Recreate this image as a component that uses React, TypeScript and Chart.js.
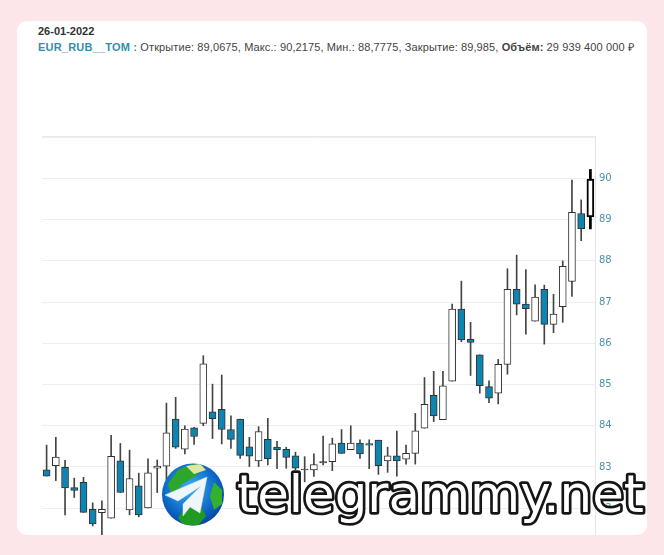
import React, { useEffect, useRef } from "react";
import { Chart, registerables } from "chart.js";

Chart.register(...registerables);

const opens = [82.93,83.03,82.99,82.50,82.63,81.97,81.89,81.76,83.15,81.96,82.54,82.01,82.97,83.02,84.16,83.43,83.95,84.06,84.34,84.40,83.91,84.16,83.49,83.15,83.67,83.48,83.43,83.27,82.95,82.93,83.13,83.13,83.58,83.42,83.58,83.57,83.65,83.15,83.27,83.19,83.33,83.94,84.74,84.15,85.08,86.83,86.10,85.72,84.95,84.79,85.49,87.31,86.95,86.54,87.31,86.46,86.89,87.50,89.15,89.0675];
const closes = [82.78,83.24,82.49,82.43,81.90,81.62,81.97,83.26,82.38,82.72,81.84,82.86,83.02,83.83,83.48,83.92,83.74,85.50,84.17,83.91,83.67,83.28,83.26,83.86,83.20,83.42,83.23,82.97,82.93,83.06,83.10,83.56,83.33,83.58,83.32,83.53,83.03,83.27,83.15,83.33,83.88,84.52,84.24,84.97,86.83,86.08,86.02,84.97,84.67,85.49,87.31,86.95,86.84,87.12,86.46,86.71,87.87,89.18,88.78,89.985];
const highs = [83.53,83.72,83.16,82.73,82.75,82.13,82.18,83.77,83.57,83.41,82.85,83.20,83.17,84.55,84.69,84.00,83.96,85.70,85.01,85.23,84.24,84.16,83.72,83.98,84.18,83.62,83.48,83.36,83.25,83.32,83.75,83.70,83.91,84.00,83.66,83.66,83.65,83.48,83.87,83.53,84.30,85.17,85.32,85.32,86.95,87.51,86.51,85.72,85.09,85.61,87.81,88.14,87.79,87.42,87.41,87.19,88.00,89.96,89.48,90.2175];
const lows = [82.78,82.67,81.84,82.26,81.90,81.57,81.35,81.76,82.38,81.84,81.79,82.01,82.38,82.68,83.45,83.32,83.55,84.00,83.69,83.56,83.45,83.21,83.01,83.01,83.05,82.96,82.97,82.93,82.64,82.77,83.05,82.91,83.33,83.42,83.21,82.96,82.82,82.87,82.78,83.07,83.07,83.94,84.10,84.15,85.08,86.04,85.22,84.79,84.56,84.53,85.25,86.69,86.22,86.54,85.98,86.26,86.51,87.14,88.49,88.7775];
const categories = opens.map((_, i) => String(i + 1));
const selectedIndex = 59;
const title = "26-01-2022";
const instrument = "EUR_RUB__TOM :";
const summary = " Открытие: 89,0675, Макс.: 90,2175, Мин.: 88,7775, Закрытие: 89,985, ";
const volumeLabel = "Объём:";
const volumeValue = " 29 939 400 000 ₽";
const watermark = "telegrammy.net";

export default function App() {
  const ref = useRef<HTMLCanvasElement>(null);
  useEffect(() => {
    document.body.style.overflow = "hidden";
    const chart = new Chart(ref.current!, {
      type: "bar",
      data: {
        labels: categories,
        datasets: [
          {
            label: "body",
            data: opens.map((o, i) => [o, closes[i]]),
            order: 1,
            grouped: false,
            barThickness: 7,
            borderSkipped: false,
            backgroundColor: opens.map((o, i) => (closes[i] < o ? "#0f84b0" : "#ffffff")),
            borderColor: opens.map((_, i) => (i === selectedIndex ? "#000000" : "#333333")),
            borderWidth: opens.map((_, i) => (i === selectedIndex ? 2 : 1)),
          },
          {
            label: "selected wick",
            data: highs.map((h, i) => (i === selectedIndex ? [lows[i], h] : null)),
            order: 2,
            grouped: false,
            barThickness: 2,
            backgroundColor: "#000000",
            borderWidth: 0,
          },
          {
            label: "wick",
            data: highs.map((h, i) => [lows[i], h]),
            order: 3,
            grouped: false,
            barThickness: 1,
            backgroundColor: "#444444",
            borderWidth: 0,
          },
        ],
      } as any,
      options: {
        animation: false,
        responsive: false,
        layout: { padding: { top: 6, left: 0, right: 0, bottom: 0 } },
        plugins: { legend: { display: false }, tooltip: { enabled: false } },
        scales: {
          x: {
            position: "top",
            afterFit: (s: any) => { s.height = 0; s.paddingLeft = 0; s.paddingRight = 0; },
            grid: { display: false },
            border: { color: "#e9e9e9" },
            ticks: { display: false },
          },
          y: {
            position: "right",
            min: 81.35,
            max: 91.03,
            afterFit: (s: any) => { s.width = 35; s.paddingTop = 0; s.paddingBottom = 0; },
            grid: { color: "#eeeeee", drawTicks: false },
            border: { color: "#dde6ea" },
            ticks: {
              stepSize: 1,
              includeBounds: false,
              padding: 4,
              color: "#4d93ad",
              font: { family: "'DejaVu Sans'", size: 10 },
              callback: (v: any) => (v >= 91 ? "" : String(v)),
            },
          },
        },
      },
    } as any);
    return () => chart.destroy();
  }, []);

  return (
    <div style={{ position: "absolute", left: 0, top: 0, width: 664, height: 555, background: "#fde6ea", overflow: "hidden" }}>
      <div style={{ position: "absolute", left: 17, top: 21, width: 630, height: 514, background: "#fff", borderRadius: 10 }} />
      <div style={{ position: "absolute", left: 38, top: 25, fontFamily: "'Liberation Sans'", fontSize: 11, fontWeight: "bold", color: "#333", whiteSpace: "nowrap" }}>{title}</div>
      <div style={{ position: "absolute", left: 38, top: 39, fontFamily: "'Liberation Sans'", fontSize: 11, color: "#444", whiteSpace: "nowrap", letterSpacing: 0.11 }}>
        <b style={{ color: "#2f90b0", letterSpacing: 0.2 }}>{instrument}</b>{summary}<b>{volumeLabel}</b>{volumeValue}
      </div>
      <canvas ref={ref} width={588} height={405} style={{ position: "absolute", left: 42, top: 130, display: "block" }} />
      <svg width={664} height={555} style={{ position: "absolute", left: 0, top: 0 }}>
        <defs>
          <radialGradient id="sea" cx="45%" cy="40%" r="65%">
            <stop offset="0%" stopColor="#39b4ee" />
            <stop offset="70%" stopColor="#0b63c4" />
            <stop offset="100%" stopColor="#063f9c" />
          </radialGradient>
          <clipPath id="globe"><circle cx={193} cy={494.5} r={31} /></clipPath>
        </defs>
        <circle cx={193} cy={494.5} r={31} fill="url(#sea)" />
        <g clipPath="url(#globe)">
          <path d="M168 484 L178 470 L192 464 L204 466 L196 476 L182 484 L172 498 Z" fill="#2ea52b" />
          <path d="M186 466 L200 464 L206 470 L194 474 Z" fill="#dfe8a0" />
          <path d="M214 482 L222 490 L222 504 L214 510 L210 496 Z" fill="#34b02c" />
          <path d="M178 518 L186 506 L200 504 L206 516 L196 528 L184 526 Z" fill="#1f9a22" />
        </g>
        <path d="M207 477 L165 495 L178 501 L201 486 L183 504 L183 516 L190 507 L200 513 Z" fill="#eef6fb" stroke="#d5e6f0" strokeWidth={0.5} />
        <text x={237} y={512} fontFamily="'DejaVu Sans'" fontSize={52} fill="#fff" stroke="#151515" strokeWidth={5.5} strokeLinejoin="round" style={{ paintOrder: "stroke" }} textLength={407} lengthAdjust="spacingAndGlyphs">{watermark}</text>
      </svg>
    </div>
  );
}
